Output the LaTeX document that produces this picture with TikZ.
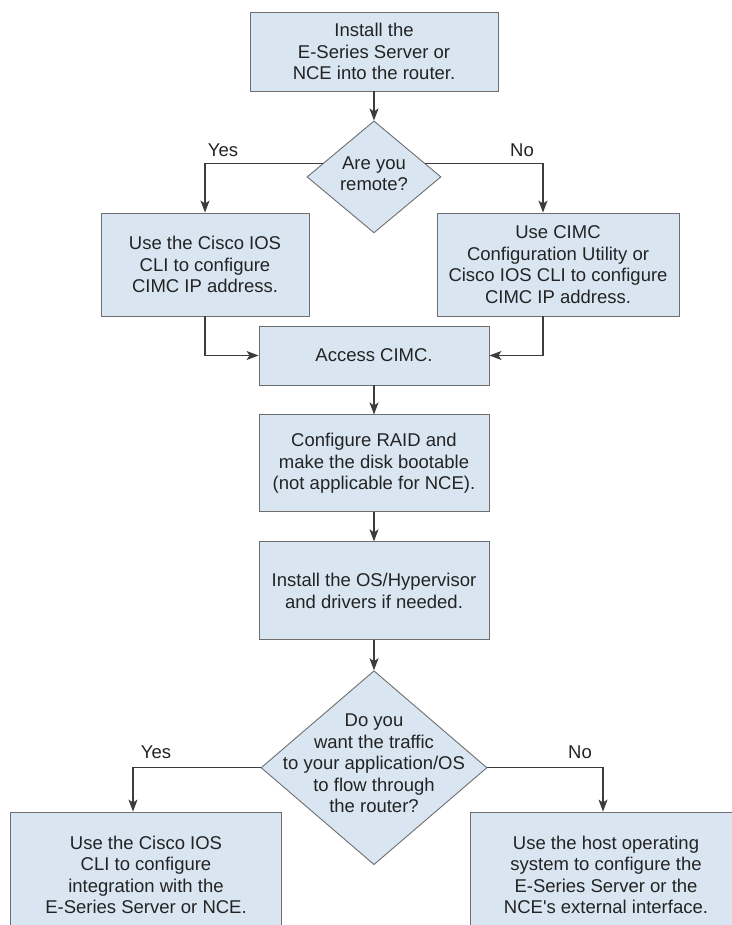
\documentclass[tikz,border=0pt]{standalone}
\usepackage{fontspec}
\setmainfont{Liberation Sans}
\usetikzlibrary{positioning, shapes.geometric, arrows.meta}

\definecolor{boxfill}{RGB}{217,230,242}
\definecolor{boxline}{RGB}{110,110,110}
\definecolor{flowline}{RGB}{60,60,60}
\definecolor{flowtext}{RGB}{35,35,35}

\begin{document}
\begin{tikzpicture}[x=1pt, y=-1pt, >={Stealth[length=12pt,width=9pt,inset=3pt]},
    every node/.style={font=\fontsize{18.5}{21.5}\selectfont, text=flowtext},
    box/.style={rectangle, draw=boxline, fill=boxfill, line width=0.9pt, align=center, inner sep=0pt},
    decision/.style={diamond, draw=boxline, fill=boxfill, line width=0.9pt, inner sep=0pt},
    dtext/.style={align=center, inner sep=0pt},
    flow/.style={draw=flowline, line width=1.1pt}]
                        \useasboundingbox (0,0) rectangle (731,925);

                        \node[box, minimum width=248pt, minimum height=79pt] (install) at (374,51.5) {Install the\\E-Series Server or\\NCE into the router.};
                        \node[decision, minimum width=134pt, minimum height=112pt, below=29pt of install] (remote) {};
                        \node[dtext] (remotetext) at ([yshift=3pt]remote) {Are you\\remote?};

                        \node[box, minimum width=208pt, minimum height=103pt] (ioscli) at (205,264.5) {Use the Cisco IOS\\CLI to configure\\CIMC IP address.};
                        \node[box, minimum width=242pt, minimum height=103pt] (cimcutil) at (558,264.5) {Use CIMC\\Configuration Utility or\\Cisco IOS CLI to configure\\CIMC IP address.};

                        \node[box, minimum width=230pt, minimum height=59pt] (access) at (374,355.5) {Access CIMC.};
                        \node[box, minimum width=230pt, minimum height=97pt, below=29pt of access] (raid) {Configure RAID and\\make the disk bootable\\(not applicable for NCE).};
                        \node[box, minimum width=230pt, minimum height=98pt, below=29pt of raid] (osinstall) {Install the OS/Hypervisor\\and drivers if needed.};

                        \node[decision, minimum width=226pt, minimum height=194pt, below=30pt of osinstall] (traffic) {};
                        \node[dtext] (traffictext) at ([yshift=4pt]traffic) {Do you\\want the traffic\\to your application/OS\\to flow through\\the router?};

                        \node[box, minimum width=271pt, minimum height=126pt] (iosint) at (146,875) {Use the Cisco IOS\\CLI to configure\\integration with the\\E-Series Server or NCE.};
                        \node[box, minimum width=272pt, minimum height=126pt] (hostos) at (606,875) {Use the host operating\\system to configure the\\E-Series Server or the\\NCE\textquotesingle s external interface.};

                        % branch labels
                        \node (yesremote) at (223,150) {Yes};
                        \node (noremote) at (522,150) {No};
                        \node (yestraffic) at (156,752) {Yes};
                        \node (notraffic) at (580,752) {No};

                        \draw[flow, ->] (install) -- (remote);
                        \draw[flow, ->] (remote.165) -| (ioscli);
                        \draw[flow, ->] (remote.15) -| ([xshift=-15pt]cimcutil.north);
                        \draw[flow, ->] (ioscli) |- (access);
                        \draw[flow, ->] ([xshift=-15pt]cimcutil.south) |- (access);
                        \draw[flow, ->] (access) -- (raid);
                        \draw[flow, ->] (raid) -- (osinstall);
                        \draw[flow, ->] (osinstall) -- (traffic);
                        \draw[flow, ->] (traffic.west) -| ([xshift=-13pt]iosint.north);
                        \draw[flow, ->] (traffic.east) -| ([xshift=-3pt]hostos.north);
                    \end{tikzpicture}
\end{document}
